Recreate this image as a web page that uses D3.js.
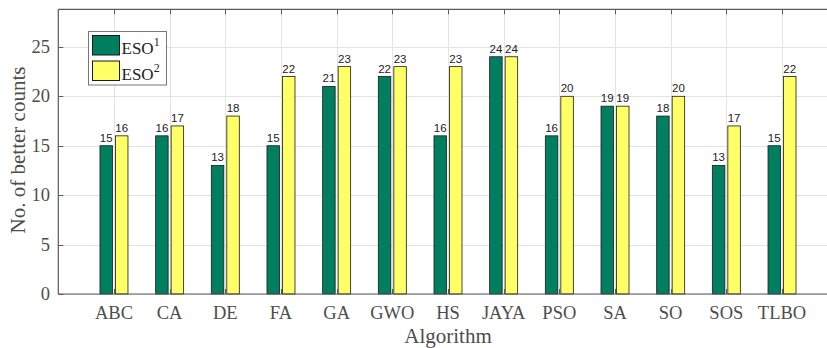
<!DOCTYPE html>
<html>
<head>
<meta charset="utf-8">
<script src="https://cdn.jsdelivr.net/npm/d3@7"></script>
<style>
  body { margin: 0; background: #fff; }
  svg { display: block; }
</style>
</head>
<body>
<div id="chart"></div>
<script>
var algorithms = ["ABC", "CA", "DE", "FA", "GA", "GWO", "HS", "JAYA", "PSO", "SA", "SO", "SOS", "TLBO"];
var eso1 = [15, 16, 13, 15, 21, 22, 16, 24, 16, 19, 18, 13, 15];
var eso2 = [16, 17, 18, 22, 23, 23, 23, 24, 20, 19, 20, 17, 22];
var yTicks = [0, 5, 10, 15, 20, 25];

var width = 827, height = 348;
var plotLeft = 58.3, plotTop = 9.3, plotBottom = 294;
var step = 55.67;

var svg = d3.select("#chart").append("svg")
    .attr("width", width).attr("height", height);

var x = d3.scaleLinear().domain([0, 14]).range([plotLeft, plotLeft + 14 * step]);
var y = d3.scaleLinear().domain([0, 28.8]).range([plotBottom, plotTop]);

var serif = "'Liberation Serif', 'Times New Roman', serif";
var axisGrey = "#5a5a5a";

// grid
var grid = svg.append("g").attr("stroke", "#e3e3e3").attr("stroke-width", 1);
grid.selectAll("line.h").data(yTicks).enter().append("line")
    .attr("x1", plotLeft).attr("x2", width)
    .attr("y1", function(d) { return Math.round(y(d)) + 0.5; })
    .attr("y2", function(d) { return Math.round(y(d)) + 0.5; });
grid.selectAll("line.v").data(algorithms).enter().append("line")
    .attr("x1", function(d, i) { return Math.round(x(i + 1)) + 0.5; })
    .attr("x2", function(d, i) { return Math.round(x(i + 1)) + 0.5; })
    .attr("y1", plotTop).attr("y2", plotBottom);

// bars
var bw = 12.5, gap = 1.5;
var bars = svg.append("g").attr("stroke", "#1a1a1a").attr("stroke-width", 0.8);
bars.selectAll("rect.a").data(eso1).enter().append("rect")
    .attr("x", function(d, i) { return x(i + 1) - gap - bw; })
    .attr("y", function(d) { return y(d); })
    .attr("width", bw)
    .attr("height", function(d) { return y(0) - y(d); })
    .attr("fill", "#007f60");
bars.selectAll("rect.b").data(eso2).enter().append("rect")
    .attr("x", function(d, i) { return x(i + 1) + gap; })
    .attr("y", function(d) { return y(d); })
    .attr("width", bw)
    .attr("height", function(d) { return y(0) - y(d); })
    .attr("fill", "#ffff66");

// value labels
var labels = svg.append("g").attr("font-family", "'Liberation Sans', Arial, sans-serif")
    .attr("font-size", 11.5).attr("fill", "#222").attr("text-anchor", "middle");
labels.selectAll("text.a").data(eso1).enter().append("text")
    .attr("x", function(d, i) { return x(i + 1) - gap - bw / 2; })
    .attr("y", function(d) { return y(d) - 4; })
    .text(function(d) { return d; });
labels.selectAll("text.b").data(eso2).enter().append("text")
    .attr("x", function(d, i) { return x(i + 1) + gap + bw / 2; })
    .attr("y", function(d) { return y(d) - 4; })
    .text(function(d) { return d; });

// axes lines
var ax = svg.append("g").attr("stroke", axisGrey).attr("stroke-width", 1.2);
ax.append("line").attr("x1", plotLeft).attr("x2", width).attr("y1", plotBottom).attr("y2", plotBottom);
ax.append("line").attr("x1", plotLeft).attr("x2", width).attr("y1", plotTop).attr("y2", plotTop);
ax.append("line").attr("x1", plotLeft).attr("x2", plotLeft).attr("y1", plotTop).attr("y2", plotBottom);

// tick marks
var tk = svg.append("g").attr("stroke", axisGrey).attr("stroke-width", 1);
algorithms.forEach(function(d, i) {
  var px = Math.round(x(i + 1)) + 0.5;
  tk.append("line").attr("x1", px).attr("x2", px).attr("y1", plotTop).attr("y2", plotTop + 5);
  tk.append("line").attr("x1", px).attr("x2", px).attr("y1", plotBottom).attr("y2", plotBottom - 5);
});
yTicks.forEach(function(d) {
  var py = Math.round(y(d)) + 0.5;
  tk.append("line").attr("x1", plotLeft).attr("x2", plotLeft + 5).attr("y1", py).attr("y2", py);
});

// tick labels
svg.append("g").attr("font-family", serif).attr("font-size", 18.5).attr("fill", "#4d4d4d")
    .attr("text-anchor", "middle")
    .selectAll("text").data(algorithms).enter().append("text")
    .attr("x", function(d, i) { return x(i + 1); })
    .attr("y", 319)
    .text(function(d) { return d; });

svg.append("g").attr("font-family", serif).attr("font-size", 18.5).attr("fill", "#4d4d4d")
    .attr("text-anchor", "end")
    .selectAll("text").data(yTicks).enter().append("text")
    .attr("x", 50)
    .attr("y", function(d) { return y(d) + 6; })
    .text(function(d) { return d; });

// axis titles
svg.append("text").attr("font-family", serif).attr("font-size", 21).attr("fill", "#4d4d4d")
    .attr("text-anchor", "middle")
    .attr("x", (plotLeft + x(14)) / 2).attr("y", 343)
    .text("Algorithm");

svg.append("text").attr("font-family", serif).attr("font-size", 21).attr("fill", "#4d4d4d")
    .attr("text-anchor", "middle")
    .attr("transform", "translate(25,150) rotate(-90)")
    .text("No. of better counts");

// legend
var lg = svg.append("g");
lg.append("rect").attr("x", 88.5).attr("y", 31.5).attr("width", 78).attr("height", 53.5)
    .attr("fill", "#fff").attr("stroke", "#777").attr("stroke-width", 1);
var items = [{name: "ESO", sup: "1", color: "#007f60"}, {name: "ESO", sup: "2", color: "#ffff66"}];
items.forEach(function(it, i) {
  var yy = 35.5 + i * 25.5;
  lg.append("rect").attr("x", 92.5).attr("y", yy).attr("width", 27).attr("height", 19.5)
      .attr("fill", it.color).attr("stroke", "#1a1a1a").attr("stroke-width", 1);
  var t = lg.append("text").attr("font-family", serif).attr("font-size", 17).attr("fill", "#222")
      .attr("x", 121.5).attr("y", yy + 18.5);
  t.append("tspan").text(it.name);
  t.append("tspan").attr("font-size", 12).attr("dy", -8).text(it.sup);
});
</script>
</body>
</html>
